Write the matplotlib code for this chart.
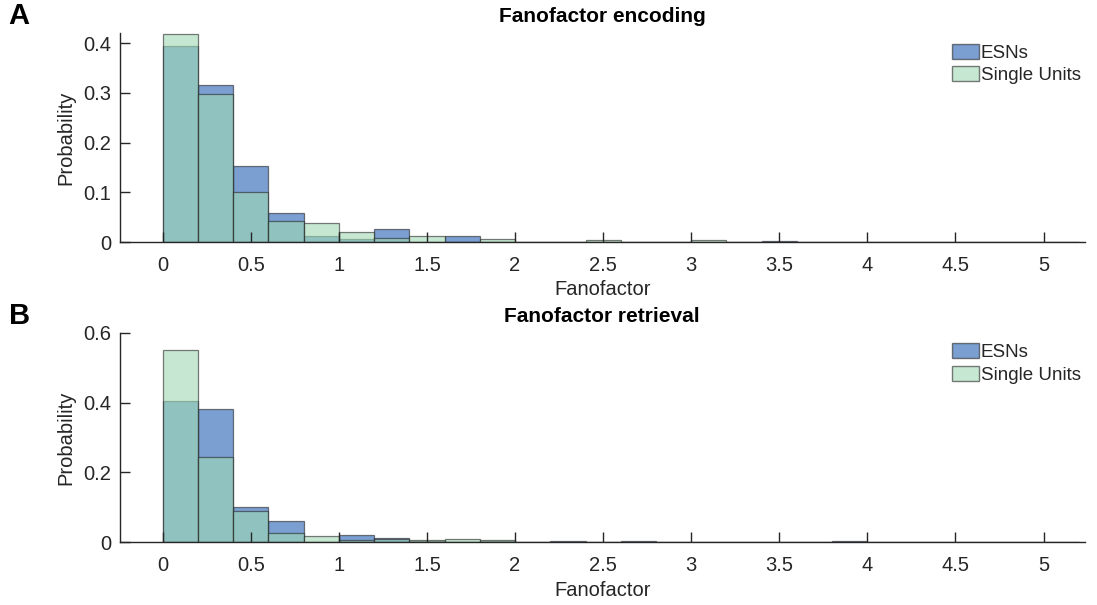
import matplotlib
matplotlib.use("Agg")
import matplotlib.pyplot as plt
import numpy as np
from matplotlib.patches import Patch

plt.rcParams["font.family"] = ["Liberation Sans", "DejaVu Sans"]

# histogram bins (width 0.2 from 0 to 5.2)
bin_width = 0.2
bin_left = np.round(np.arange(0, 5.2, bin_width), 2)

# encoding: probability per bin
enc_esn = [0.395, 0.315, 0.153, 0.058, 0.013, 0.007, 0.027, 0.0, 0.013, 0.0,
           0.0, 0.0, 0.0, 0.0, 0.0, 0.0, 0.0, 0.002, 0.0, 0.0,
           0.0, 0.0, 0.0, 0.0, 0.0, 0.0]
enc_su = [0.419, 0.297, 0.100, 0.043, 0.039, 0.021, 0.009, 0.012, 0.0, 0.006,
          0.0, 0.0, 0.005, 0.0, 0.0, 0.005, 0.0, 0.0, 0.0, 0.0,
          0.0, 0.0, 0.0, 0.0, 0.0, 0.0]
# retrieval: probability per bin
ret_esn = [0.405, 0.382, 0.101, 0.059, 0.0, 0.020, 0.0125, 0.003, 0.0, 0.003,
           0.0, 0.003, 0.0, 0.003, 0.0, 0.0, 0.0, 0.0, 0.0, 0.004,
           0.0, 0.0, 0.0, 0.0, 0.0, 0.0]
ret_su = [0.550, 0.243, 0.088, 0.027, 0.018, 0.006, 0.008, 0.006, 0.0096, 0.007,
          0.0, 0.0, 0.0, 0.0, 0.0, 0.0, 0.0, 0.0, 0.0, 0.0,
          0.0, 0.0, 0.0, 0.0, 0.0, 0.0]

panels = [("A", "Fanofactor encoding", enc_esn, enc_su, [0, 0.1, 0.2, 0.3, 0.4], 0.42),
          ("B", "Fanofactor retrieval", ret_esn, ret_su, [0, 0.2, 0.4, 0.6], 0.6)]
xticks = [0, 0.5, 1, 1.5, 2, 2.5, 3, 3.5, 4, 4.5, 5]

c_esn = "#215fb1"
c_su = "#a0dab4"
alpha = 0.6
edge = "#262626"
txt = "#262626"

fig = plt.figure(figsize=(10.97, 6.05), dpi=100)
rects = [[0.109, 0.600, 0.880, 0.345], [0.109, 0.104, 0.880, 0.346]]

for rect, (letter, title, esn, su, yt, ymax) in zip(rects, panels):
    ax = fig.add_axes(rect)
    ax.bar(bin_left, esn, width=bin_width, align="edge", color=c_esn, alpha=alpha,
           edgecolor=edge, linewidth=0.9)
    ax.bar(bin_left, su, width=bin_width, align="edge", color=c_su, alpha=alpha,
           edgecolor=edge, linewidth=0.9)
    ax.set_xlim(-0.245, 5.235)
    ax.set_ylim(0, ymax)
    ax.set_xticks(xticks)
    ax.set_xticklabels([f"{t:g}" for t in xticks])
    ax.set_yticks(yt)
    ax.set_yticklabels([f"{t:g}" for t in yt])
    ax.tick_params(direction="in", length=7, width=1, colors=txt, labelsize=14.5)
    ax.tick_params(axis="x", pad=10)
    ax.tick_params(axis="y", pad=6)
    ax.spines[["top", "right"]].set_visible(False)
    for s in ("left", "bottom"):
        ax.spines[s].set_color(txt)
        ax.spines[s].set_linewidth(1)
    ax.set_xlabel("Fanofactor", fontsize=14.5, color=txt, labelpad=4)
    ax.set_ylabel("Probability", fontsize=14.5, color=txt, labelpad=6)
    ax.set_title(title, fontsize=15, fontweight="bold", color="black", pad=8)
    ax.legend(handles=[Patch(facecolor=c_esn, alpha=alpha, edgecolor=edge, label="ESNs"),
                       Patch(facecolor=c_su, alpha=alpha, edgecolor=edge, label="Single Units")],
              loc="upper left", bbox_to_anchor=(0.862, 0.95), frameon=False, fontsize=13.5,
              handlelength=1.45, handleheight=0.85, handletextpad=0.1, labelspacing=0.25,
              borderaxespad=0.0, borderpad=0.0, labelcolor=txt)
    fig.text(0.008, rect[1] + rect[3] + 0.005, letter, fontsize=21, fontweight="bold",
             color="black", va="bottom", ha="left")

fig.savefig("out.png", dpi=100)
